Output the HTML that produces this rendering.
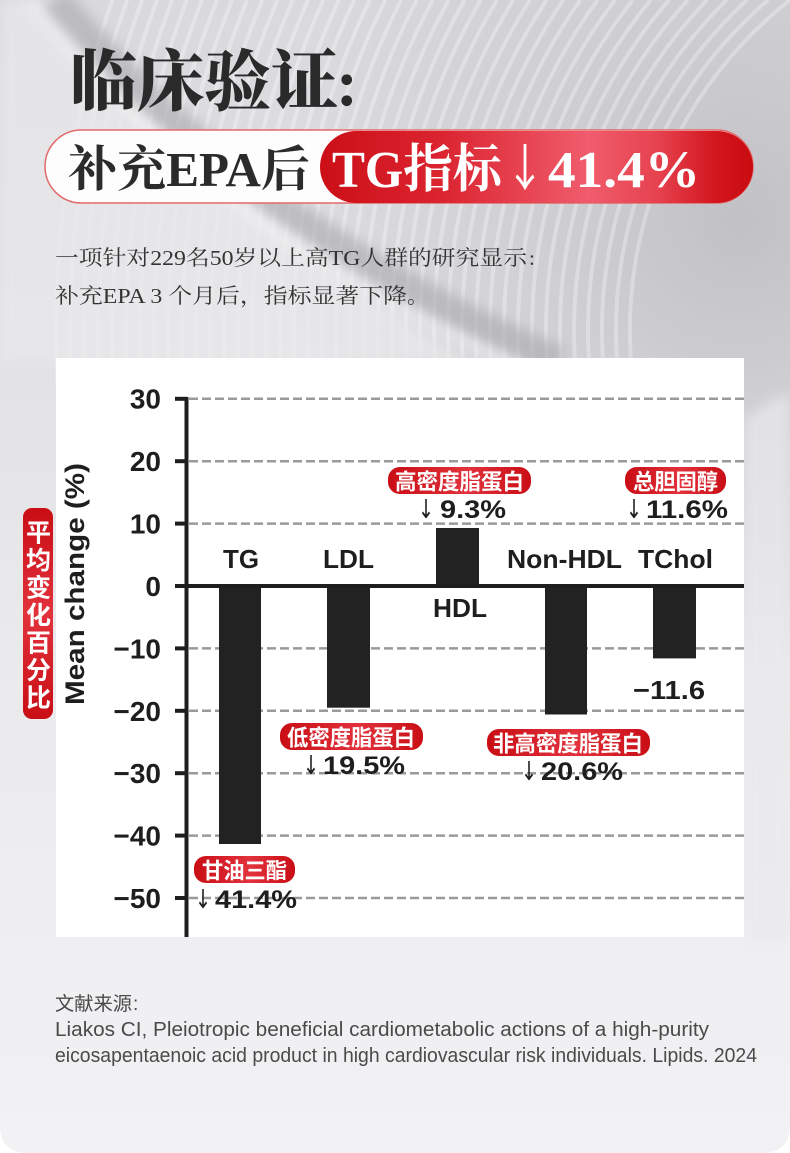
<!DOCTYPE html>
<html><head><meta charset="utf-8"><style>
html,body{margin:0;padding:0;background:#fff;width:790px;height:1153px;overflow:hidden;}
svg{display:block;}
.cs{font-family:"Liberation Sans","Noto Sans CJK SC",sans-serif;font-weight:bold;}
.sf{font-family:"Liberation Serif","Noto Serif CJK SC",serif;}
.ar{font-family:"DejaVu Sans",sans-serif;font-weight:normal;}
</style></head><body>
<svg width="790" height="1153" viewBox="0 0 790 1153" xmlns="http://www.w3.org/2000/svg">
<defs>
  <linearGradient id="bg" x1="0" y1="0" x2="0" y2="1">
    <stop offset="0" stop-color="#d9d9dd"/>
    <stop offset="0.3" stop-color="#e2e2e5"/>
    <stop offset="0.6" stop-color="#ebebed"/>
    <stop offset="1" stop-color="#f2f2f4"/>
  </linearGradient>
  <radialGradient id="dk" cx="740" cy="220" r="460" gradientUnits="userSpaceOnUse">
    <stop offset="0" stop-color="#bfbfc4" stop-opacity="0.95"/>
    <stop offset="0.6" stop-color="#c8c8cc" stop-opacity="0.5"/>
    <stop offset="1" stop-color="#c8c8cc" stop-opacity="0"/>
  </radialGradient>
  <linearGradient id="fadeM" x1="0" y1="0" x2="0" y2="1">
    <stop offset="0" stop-color="#fff"/>
    <stop offset="0.3" stop-color="#fff"/>
    <stop offset="0.5" stop-color="#000"/>
  </linearGradient>
  <mask id="m1" maskUnits="userSpaceOnUse" x="0" y="0" width="790" height="1153">
    <rect x="0" y="0" width="790" height="1153" fill="url(#fadeM)"/>
  </mask>
  <filter id="bl" x="-20%" y="-20%" width="140%" height="140%"><feGaussianBlur stdDeviation="6"/></filter>
  <linearGradient id="rp" x1="320" y1="0" x2="753" y2="0" gradientUnits="userSpaceOnUse">
    <stop offset="0" stop-color="#cc0f17"/>
    <stop offset="0.28" stop-color="#db2430"/>
    <stop offset="0.62" stop-color="#f05c6c"/>
    <stop offset="0.78" stop-color="#e6424f"/>
    <stop offset="0.92" stop-color="#d2141c"/>
    <stop offset="1" stop-color="#c80c10"/>
  </linearGradient>
  <linearGradient id="bd" x1="0" y1="0" x2="1" y2="0">
    <stop offset="0" stop-color="#c90d15"/>
    <stop offset="0.55" stop-color="#e2323c"/>
    <stop offset="1" stop-color="#c90d15"/>
  </linearGradient>
  <linearGradient id="bdv" x1="0" y1="0" x2="0" y2="1">
    <stop offset="0" stop-color="#c90d15"/>
    <stop offset="0.5" stop-color="#e2323c"/>
    <stop offset="1" stop-color="#c90d15"/>
  </linearGradient>
</defs>

<!-- background -->
<rect x="0" y="0" width="790" height="1153" fill="#ffffff"/>
<path d="M0,0 H790 V1125 Q790,1153 762,1153 H28 Q0,1153 0,1125 Z" fill="url(#bg)"/>
<rect x="0" y="0" width="790" height="800" fill="url(#dk)"/>
<g mask="url(#m1)" fill="none" stroke="#ffffff" stroke-opacity="0.3" stroke-width="4">
  <path d="M790,0 A420 420 0 0 0 698.6,560"/>
  <path d="M768.1,0 A434 434 0 0 0 682,560"/>
  <path d="M747,0 A448 448 0 0 0 665.5,560"/>
  <path d="M726.7,0 A462 462 0 0 0 649.3,560"/>
  <path d="M707,0 A476 476 0 0 0 633.3,560"/>
  <path d="M687.8,0 A490 490 0 0 0 617.3,560"/>
  <path d="M669.1,0 A504 504 0 0 0 601.5,560"/>
  <path d="M650.7,0 A518 518 0 0 0 585.9,560"/>
  <path d="M632.7,0 A532 532 0 0 0 570.3,560"/>
  <path d="M615,0 A546 546 0 0 0 554.8,560"/>
  <path d="M597.6,0 A560 560 0 0 0 539.4,560"/>
  <path d="M580.3,0 A574 574 0 0 0 524.1,560"/>
  <path d="M563.3,0 A588 588 0 0 0 508.8,560"/>
  <path d="M546.5,0 A602 602 0 0 0 493.7,560"/>
  <path d="M529.9,0 A616 616 0 0 0 478.6,560"/>
  <path d="M513.3,0 A630 630 0 0 0 463.5,560"/>
  <path d="M497,0 A644 644 0 0 0 448.5,560"/>
  <path d="M480.7,0 A658 658 0 0 0 433.5,560"/>
  <path d="M464.6,0 A672 672 0 0 0 418.6,560"/>
  <path d="M448.6,0 A686 686 0 0 0 403.7,560"/>
  <path d="M432.7,0 A700 700 0 0 0 388.9,560"/>
  <path d="M416.8,0 A714 714 0 0 0 374.1,560"/>
  <path d="M401.1,0 A728 728 0 0 0 359.3,560"/>
  <path d="M385.4,0 A742 742 0 0 0 344.5,560"/>
  <path d="M369.8,0 A756 756 0 0 0 329.8,560"/>
  <path d="M354.3,0 A770 770 0 0 0 315.2,560"/>
  <path d="M338.8,0 A784 784 0 0 0 300.5,560"/>
  <path d="M323.4,0 A798 798 0 0 0 285.9,560"/>
  <path d="M308.1,0 A812 812 0 0 0 271.3,560"/>
  <path d="M292.8,0 A826 826 0 0 0 256.7,560"/>
  <path d="M277.5,0 A840 840 0 0 0 242.1,560"/>
  <path d="M262.3,0 A854 854 0 0 0 227.6,560"/>
  <path d="M247.2,0 A868 868 0 0 0 213,560"/>
  <path d="M232.1,0 A882 882 0 0 0 198.5,560"/>
  <path d="M217,0 A896 896 0 0 0 184,560"/>
  <path d="M201.9,0 A910 910 0 0 0 169.5,560"/>
  <path d="M186.9,0 A924 924 0 0 0 155.1,560"/>
  <path d="M172,0 A938 938 0 0 0 140.6,560"/>
  <path d="M157,0 A952 952 0 0 0 126.2,560"/>
  <path d="M142.1,0 A966 966 0 0 0 111.8,560"/>
  <path d="M127.2,0 A980 980 0 0 0 97.4,560"/>
  <path d="M112.4,0 A994 994 0 0 0 83,560"/>
</g>
<!-- right side below stripes: light sweep -->
<path d="M744,420 Q770,400 790,392 L790,940 L744,940 Z" fill="#eaeaec" opacity="0.7" filter="url(#bl)"/>
<!-- lighter area left of band -->
<path d="M0,0 L30,0 C140,120 300,260 470,362 L0,362 Z" fill="#e9e9eb" opacity="0.75" filter="url(#bl)"/>
<!-- diagonal shadow band -->
<path d="M55,0 C155,115 300,250 560,362" fill="none" stroke="#a6a6ab" stroke-opacity="0.6" stroke-width="30" filter="url(#bl)"/>
<path d="M30,0 C130,120 270,255 520,366" fill="none" stroke="#ffffff" stroke-opacity="0.45" stroke-width="10" filter="url(#bl)"/>

<!-- title -->
<text x="70" y="105" class="sf" font-size="67" font-weight="900" fill="#2a2a2a" textLength="268" lengthAdjust="spacingAndGlyphs">临床验证</text>
<text x="336" y="105" font-family="Liberation Serif, serif" font-size="66" font-weight="bold" fill="#2a2a2a">:</text>

<!-- pill -->
<rect x="45" y="130" width="708" height="73" rx="36.5" fill="#fdfdfd" stroke="#e26a6a" stroke-width="1.5"/>
<rect x="320" y="131" width="433" height="72" rx="36" fill="url(#rp)"/>
<text x="68" y="186" class="sf" font-size="49" font-weight="bold" fill="#2b2b2b" textLength="242" lengthAdjust="spacingAndGlyphs">补充EPA后</text>
<text x="332" y="187" class="sf" font-size="52" font-weight="bold" fill="#ffffff" textLength="170" lengthAdjust="spacingAndGlyphs">TG指标</text>
<text x="505" y="186" font-family="'Noto Sans CJK SC', 'DejaVu Sans', sans-serif" font-size="50" font-weight="normal" fill="#ffffff" textLength="40" lengthAdjust="spacingAndGlyphs">↓</text>
<text x="548" y="187" class="sf" font-size="52" font-weight="bold" fill="#ffffff" textLength="152" lengthAdjust="spacingAndGlyphs">41.4%</text>

<!-- subtitle -->
<text x="55" y="265" class="sf" font-size="21" fill="#333" textLength="472" lengthAdjust="spacingAndGlyphs">一项针对229名50岁以上高TG人群的研究显示</text>
<text x="529" y="265" class="sf" font-size="21" fill="#333">:</text>
<text x="55" y="303" class="sf" font-size="21" fill="#333" textLength="352" lengthAdjust="spacingAndGlyphs">补充EPA 3 个月后，指标显著下降</text>
<text x="407" y="303" class="sf" font-size="21" fill="#333">。</text>

<!-- chart panel -->
<rect x="56" y="358" width="688" height="579" fill="#ffffff"/>

<!-- gridlines -->
<g stroke="#9a9a9a" stroke-width="2.5" stroke-dasharray="9 4">
  <line x1="189" y1="398.8" x2="744" y2="398.8"/>
  <line x1="189" y1="461.2" x2="744" y2="461.2"/>
  <line x1="189" y1="523.6" x2="744" y2="523.6"/>
  <line x1="189" y1="648.4" x2="744" y2="648.4"/>
  <line x1="189" y1="710.8" x2="744" y2="710.8"/>
  <line x1="189" y1="773.2" x2="744" y2="773.2"/>
  <line x1="189" y1="835.6" x2="744" y2="835.6"/>
  <line x1="189" y1="898" x2="744" y2="898"/>
</g>

<!-- bars -->
<g fill="#222222">
  <rect x="219" y="586" width="42" height="258"/>
  <rect x="327" y="586" width="43" height="121.7"/>
  <rect x="436" y="528" width="43" height="58"/>
  <rect x="545" y="586" width="42" height="128.5"/>
  <rect x="653" y="586" width="43" height="72.4"/>
</g>

<!-- axis -->
<rect x="184.5" y="397" width="4" height="540" fill="#1e1e1e"/>
<rect x="186" y="584" width="558" height="4" fill="#1e1e1e"/>
<g fill="#1e1e1e">
  <rect x="175" y="396.8" width="12" height="4"/>
  <rect x="175" y="459.2" width="12" height="4"/>
  <rect x="175" y="521.6" width="12" height="4"/>
  <rect x="175" y="584" width="12" height="4"/>
  <rect x="175" y="646.4" width="12" height="4"/>
  <rect x="175" y="708.8" width="12" height="4"/>
  <rect x="175" y="771.2" width="12" height="4"/>
  <rect x="175" y="833.6" width="12" height="4"/>
  <rect x="175" y="896" width="12" height="4"/>
</g>

<!-- tick labels -->
<g class="cs" font-size="28" fill="#1e1e1e" text-anchor="end">
  <text x="161" y="408.5">30</text>
  <text x="161" y="471">20</text>
  <text x="161" y="533.5">10</text>
  <text x="161" y="596">0</text>
  <text x="161" y="658.5">−10</text>
  <text x="161" y="721">−20</text>
  <text x="161" y="783">−30</text>
  <text x="161" y="845.5">−40</text>
  <text x="161" y="908">−50</text>
</g>

<!-- y axis title -->
<text transform="translate(84,584) rotate(-90)" class="cs" font-size="27" fill="#1e1e1e" text-anchor="middle" textLength="242" lengthAdjust="spacingAndGlyphs">Mean change (%)</text>

<!-- vertical red badge -->
<rect x="23" y="508" width="30" height="211" rx="9" fill="url(#bdv)"/>
<g class="cs" font-size="25" fill="#ffffff" text-anchor="middle">
  <text x="38.5" y="541.5">平</text>
  <text x="38.5" y="569">均</text>
  <text x="38.5" y="596.5">变</text>
  <text x="38.5" y="624">化</text>
  <text x="38.5" y="651.5">百</text>
  <text x="38.5" y="679">分</text>
  <text x="38.5" y="706.5">比</text>
</g>

<!-- category labels -->
<g class="cs" font-size="26" fill="#1e1e1e">
  <text x="223" y="568" textLength="36" lengthAdjust="spacingAndGlyphs">TG</text>
  <text x="323" y="568" textLength="51" lengthAdjust="spacingAndGlyphs">LDL</text>
  <text x="507" y="568" textLength="115" lengthAdjust="spacingAndGlyphs">Non-HDL</text>
  <text x="638" y="568" textLength="75" lengthAdjust="spacingAndGlyphs">TChol</text>
  <text x="433" y="617" textLength="54" lengthAdjust="spacingAndGlyphs">HDL</text>
  <text x="633" y="699" textLength="72" lengthAdjust="spacingAndGlyphs">−11.6</text>
</g>

<!-- red badges -->
<rect x="388" y="467" width="143" height="27" rx="12" fill="url(#bd)"/>
<rect x="625" y="467" width="101" height="27" rx="12" fill="url(#bd)"/>
<rect x="280" y="723" width="143" height="27" rx="12" fill="url(#bd)"/>
<rect x="487" y="729" width="163" height="27" rx="12" fill="url(#bd)"/>
<rect x="194" y="856" width="101" height="27" rx="12" fill="url(#bd)"/>
<g class="cs" font-size="22" fill="#ffffff">
  <text x="395" y="489.5" textLength="129" lengthAdjust="spacingAndGlyphs">高密度脂蛋白</text>
  <text x="633" y="489.5" textLength="85" lengthAdjust="spacingAndGlyphs">总胆固醇</text>
  <text x="287" y="745.5" textLength="128" lengthAdjust="spacingAndGlyphs">低密度脂蛋白</text>
  <text x="493" y="751.5" textLength="150" lengthAdjust="spacingAndGlyphs">非高密度脂蛋白</text>
  <text x="202" y="878.5" textLength="85" lengthAdjust="spacingAndGlyphs">甘油三酯</text>
</g>

<!-- percent labels: arrows -->
<g class="ar" font-size="26" fill="#1e1e1e">
  <text x="418" y="518" textLength="16" lengthAdjust="spacingAndGlyphs">↓</text>
  <text x="626" y="518" textLength="16" lengthAdjust="spacingAndGlyphs">↓</text>
  <text x="303" y="774" textLength="16" lengthAdjust="spacingAndGlyphs">↓</text>
  <text x="521" y="780" textLength="16" lengthAdjust="spacingAndGlyphs">↓</text>
  <text x="195" y="908" textLength="16" lengthAdjust="spacingAndGlyphs">↓</text>
</g>
<!-- percent labels: numbers -->
<g class="cs" font-size="25" fill="#1e1e1e">
  <text x="440" y="518" textLength="66" lengthAdjust="spacingAndGlyphs">9.3%</text>
  <text x="646" y="518" textLength="82" lengthAdjust="spacingAndGlyphs">11.6%</text>
  <text x="323" y="774" textLength="82" lengthAdjust="spacingAndGlyphs">19.5%</text>
  <text x="541" y="780" textLength="82" lengthAdjust="spacingAndGlyphs">20.6%</text>
  <text x="215" y="908" textLength="82" lengthAdjust="spacingAndGlyphs">41.4%</text>
</g>

<!-- reference -->
<g font-family="Liberation Sans, 'Noto Sans CJK SC', sans-serif" fill="#4a4a4a">
  <text x="55" y="1010" font-size="19" textLength="77" lengthAdjust="spacingAndGlyphs">文献来源</text>
  <text x="133" y="1010" font-size="19">:</text>
  <text x="55" y="1036" font-size="20" textLength="654" lengthAdjust="spacingAndGlyphs">Liakos CI, Pleiotropic beneficial cardiometabolic actions of a high-purity</text>
  <text x="55" y="1062" font-size="20" textLength="702" lengthAdjust="spacingAndGlyphs">eicosapentaenoic acid product in high cardiovascular risk individuals. Lipids. 2024</text>
</g>
</svg>
</body></html>
